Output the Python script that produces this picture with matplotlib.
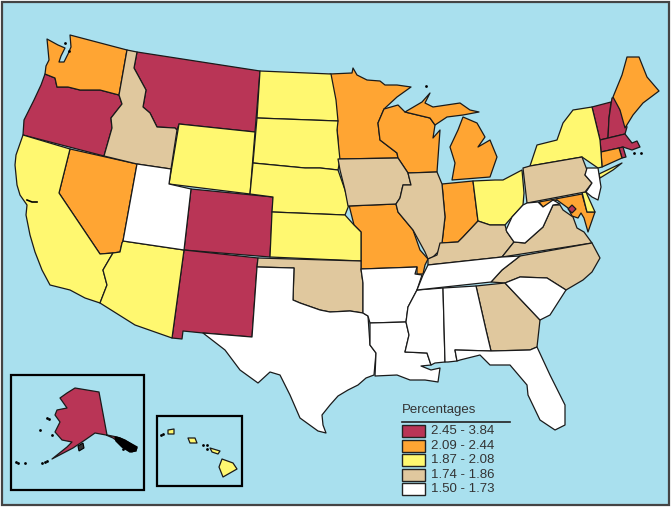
import matplotlib
matplotlib.use("Agg")
import matplotlib.pyplot as plt
from matplotlib.patches import Polygon, Rectangle

plt.rcParams['font.family'] = ['Liberation Sans', 'DejaVu Sans']

# outlines, in image pixels
WA = [(70,35),(127,50),(119,95),(100,90),(80,90),(68,87),(57,87),(55,78),(45,74),(46,66),(49,60),(47,39),(58,45),(65,48),(61,56),(59,62),(64,62),(68,54),(71,47)]
OR = [(45,74),(55,78),(57,87),(68,87),(80,90),(100,90),(119,95),(122,104),(111,118),(112,128),(104,156),(23,135),(24,120),(34,100),(41,85)]
CA = [(23,135),(70,149),(59,193),(100,254),(113,253),(110,258),(103,270),(107,285),(100,303),(85,298),(70,290),(50,285),(42,270),(35,252),(30,235),(26,215),(27,205),(20,195),(17,185),(15,165),(16,155)]
NV = [(70,149),(137,164),(123,241),(122,243),(120,252),(113,253),(100,254),(59,193)]
ID = [(127,50),(137,52),(134,68),(146,90),(143,107),(150,113),(157,127),(175,128),(177,130),(171,169),(137,164),(104,156),(112,128),(111,118),(122,104),(119,95)]
MT = [(137,52),(260,71),(255,132),(179,124),(177,130),(175,128),(157,127),(150,113),(143,107),(146,90),(134,68)]
WY = [(179,124),(255,132),(250,194),(169,184)]
UT = [(137,164),(171,169),(169,184),(191,189),(184,250),(123,241)]
CO = [(191,189),(273,197),(270,257),(184,250)]
AZ = [(123,241),(184,250),(172,338),(135,325),(100,303),(107,285),(103,270),(110,258),(113,253),(120,252),(122,243)]
NM = [(184,250),(258,258),(257,267),(252,337),(203,333),(183,331),(182,339),(172,338)]
TX = [(257,267),(294,268),(293,300),(300,303),(320,310),(330,312),(350,311),(363,313),(368,316),(370,345),(376,353),(374,375),(366,378),(358,385),(348,390),(338,396),(330,405),(322,415),(323,425),(326,433),(318,431),(300,418),(290,395),(280,375),(270,372),(258,383),(240,370),(225,350),(203,333),(252,337)]
OK = [(258,258),(361,261),(361,269),(363,283),(363,313),(350,311),(330,312),(320,310),(300,303),(293,300),(294,268),(257,267)]
KS = [(272,212),(345,215),(354,225),(361,232),(361,261),(270,257)]
NE = [(250,194),(253,163),(305,168),(320,168),(338,170),(345,190),(349,205),(345,215),(272,212),(273,197)]
SD = [(253,163),(257,118),(338,121),(337,130),(340,160),(338,170),(320,168),(305,168)]
ND = [(257,118),(260,71),(331,74),(336,100),(338,121)]
MN = [(330,74),(352,73),(353,68),(357,75),(367,80),(380,81),(385,85),(397,85),(411,87),(397,97),(384,109),(378,123),(380,140),(397,153),(398,158),(338,159),(338,140),(335,107),(332,87)]
IA = [(338,159),(398,158),(408,173),(411,185),(403,185),(400,198),(396,204),(348,206),(345,190),(340,170)]
MO = [(348,206),(396,204),(398,212),(413,230),(420,250),(428,259),(425,265),(423,274),(417,274),(417,267),(361,269),(361,232),(354,225),(349,205)]
AR = [(361,269),(417,267),(415,274),(422,275),(417,290),(408,307),(406,322),(370,323),(368,316),(363,313),(363,283)]
LA = [(370,323),(406,322),(409,335),(405,352),(427,353),(431,365),(421,366),(431,370),(440,368),(438,382),(425,380),(410,380),(397,375),(375,376),(376,353),(370,345)]
MS = [(417,290),(443,288),(445,362),(435,363),(431,365),(427,353),(405,352),(409,335),(406,322),(408,307)]
AL = [(443,288),(476,286),(486,330),(491,351),(455,350),(457,361),(448,362),(445,362)]
GA = [(476,286),(505,283),(540,320),(537,347),(530,350),(491,351),(486,330)]
FL = [(455,350),(491,351),(530,350),(537,347),(550,375),(565,405),(565,425),(555,430),(540,420),(528,395),(527,385),(510,365),(490,365),(480,355),(460,360),(457,361)]
SC = [(505,283),(520,277),(547,278),(566,290),(550,315),(540,320)]
NC = [(491,282),(502,270),(520,256),(592,243),(600,258),(592,272),(583,280),(566,290),(547,278),(520,277),(505,283)]
TN = [(417,290),(423,275),(428,265),(502,257),(520,256),(502,270),(491,282)]
KY = [(428,259),(437,255),(440,243),(458,242),(463,237),(478,221),(490,225),(505,225),(507,232),(514,242),(502,257),(428,265)]
VA = [(502,257),(514,242),(525,243),(543,227),(553,205),(560,205),(563,210),(573,217),(577,228),(584,232),(592,243)]
WV = [(507,232),(506,230),(512,217),(523,205),(527,203),(538,202),(543,207),(553,200),(560,204),(553,205),(543,227),(525,243),(514,242)]
OH = [(473,181),(495,180),(503,180),(522,170),(524,193),(523,205),(512,217),(505,225),(490,225),(478,221)]
IN = [(442,184),(473,181),(478,221),(463,237),(458,242),(442,243),(445,217)]
IL = [(408,173),(437,172),(442,184),(445,217),(442,243),(440,250),(433,257),(428,259),(425,252),(413,230),(398,212),(396,204),(400,198),(403,185),(411,185)]
WI = [(384,109),(398,105),(405,112),(430,118),(435,125),(433,138),(440,130),(437,172),(408,173),(398,158),(397,153),(380,140),(378,123)]
MI_UP = [(405,112),(422,102),(430,93),(425,103),(433,107),(460,103),(470,110),(479,112),(463,115),(447,117),(435,125),(430,118)]
MI_LOW = [(452,180),(455,163),(450,147),(458,130),(463,117),(477,123),(485,137),(478,147),(490,140),(497,157),(490,177)]
NY = [(530,166),(537,145),(557,140),(563,123),(573,110),(592,107),(600,140),(601,152),(602,167),(598,168),(582,157)]
LI = [(599,174),(622,163),(613,170),(600,178)]
PA = [(530,166),(582,157),(587,170),(585,175),(592,183),(585,192),(527,203),(523,168)]
NJ = [(587,168),(598,168),(601,187),(598,200),(592,197),(586,192),(592,183),(585,175)]
DE = [(582,192),(586,192),(595,212),(587,212)]
MD = [(539,202),(582,194),(587,212),(595,212),(588,232),(584,218),(581,213),(578,218),(572,216),(568,208),(557,200),(543,207)]
DC = [(572,205),(576,209),(572,213),(568,209)]
ME = [(613,97),(622,75),(627,57),(639,57),(647,77),(659,91),(643,103),(633,115),(625,128),(620,110)]
NH = [(612,98),(615,97),(627,127),(625,134),(608,138),(609,118)]
VT = [(592,107),(611,102),(609,118),(608,138),(600,140)]
MA = [(600,140),(625,134),(632,143),(637,141),(640,147),(632,150),(623,147),(619,148),(601,152)]
CT = [(601,152),(619,148),(622,158),(602,167)]
RI = [(619,148),(623,147),(626,157),(622,158)]
AK = [(75,388),(99,392),(107,435),(117,437),(125,440),(137,448),(132,452),(120,443),(113,438),(106,435),(95,433),(85,440),(73,448),(52,459),(67,447),(72,442),(62,440),(55,432),(60,422),(55,415),(57,410),(67,408),(60,398),(67,393)]
AK_PANHANDLE = [(115,437),(120,438),(128,442),(137,447),(136,451),(130,452),(122,447),(116,441)]
AK_KODIAK = [(78,446),(83,443),(84,448),(79,451)]
HI_BIG = [(222,459),(233,463),(237,469),(223,477),(219,467)]
HI_MAUI = [(210,448),(220,451),(218,454),(212,452)]
HI_OAHU = [(188,438),(195,438),(197,443),(190,443)]
HI_KAUAI = [(168,430),(174,429),(174,434),(168,434)]

# small islands and sounds that come out as black specks
SPECKS = [(65,43),(69,51),(426,86),(123,449),(47,418),(49,419),(40,430),(52,435),(16,462),(18,463),(25,463),(42,463),(45,462),(47,461),(163,434),(161,435),(203,445),(207,445),(207,449),(634,153),(641,153)]
BAY_X = [27, 32, 37]
BAY_Y = [200, 202, 202]

bin_labels = ["2.45 - 3.84", "2.09 - 2.44", "1.87 - 2.08", "1.74 - 1.86", "1.50 - 1.73"]
bin_colors = ["#B93556", "#FFA533", "#FFF870", "#E0C89E", "#FFFFFF"]

states_bin0 = [OR, MT, CO, NM, VT, NH, MA, RI, AK]
states_bin1 = [WA, NV, MN, WI, MI_UP, MI_LOW, MO, IN, ME, CT, MD]
states_bin2 = [CA, AZ, WY, ND, SD, NE, KS, OH, NY, LI, DE, HI_BIG, HI_MAUI, HI_OAHU, HI_KAUAI]
states_bin3 = [ID, IA, IL, KY, OK, PA, VA, NC, GA]
states_bin4 = [UT, TX, AR, LA, MS, AL, TN, SC, FL, WV, NJ]
all_bins = [states_bin0, states_bin1, states_bin2, states_bin3, states_bin4]

fig = plt.figure(figsize=(6.72, 5.08), dpi=100, facecolor="white")
ax = fig.add_axes([0, 0, 1, 1])
ax.set_xlim(0, 672)
ax.set_ylim(508, 0)
ax.axis("off")

ax.add_patch(Rectangle((2, 2), 667, 503, fc="#A9E0EE", ec="#444444", lw=1.6))

for i, group in enumerate(all_bins):
    for outline in group:
        ax.add_patch(Polygon(outline, closed=True, fc=bin_colors[i], ec="#1a1a1a", lw=0.9, joinstyle="round"))

# these sit on top of their neighbours
ax.add_patch(Polygon(DC, closed=True, fc=bin_colors[0], ec="#1a1a1a", lw=0.9))
ax.add_patch(Polygon(AK_PANHANDLE, closed=True, fc="black", ec="black", lw=1.0))
ax.add_patch(Polygon(AK_KODIAK, closed=True, fc="#333333", ec="black", lw=0.8))

xs, ys = zip(*SPECKS)
ax.scatter(xs, ys, s=4, c="black", lw=0)
ax.plot(BAY_X, BAY_Y, color="black", lw=1.2)

# inset frames
ax.add_patch(Rectangle((11, 375), 133, 115, fc="none", ec="black", lw=1.6))
ax.add_patch(Rectangle((157, 416), 85, 70, fc="none", ec="black", lw=1.6))

# legend
ax.text(402, 410, "Percentages", fontsize=9.5, color="#333333", va="center", ha="left")
ax.plot([402, 510], [422, 422], color="#222222", lw=1.2)
rows = [431, 446, 460, 475, 489]
for y, lab, col in zip(rows, bin_labels, bin_colors):
    ax.add_patch(Rectangle((402, y - 6), 23, 12, fc=col, ec="#222222", lw=1.0))
    ax.text(431, y, lab, fontsize=9.5, color="#333333", va="center", ha="left")

plt.savefig("out.png", dpi=100)
plt.close()
